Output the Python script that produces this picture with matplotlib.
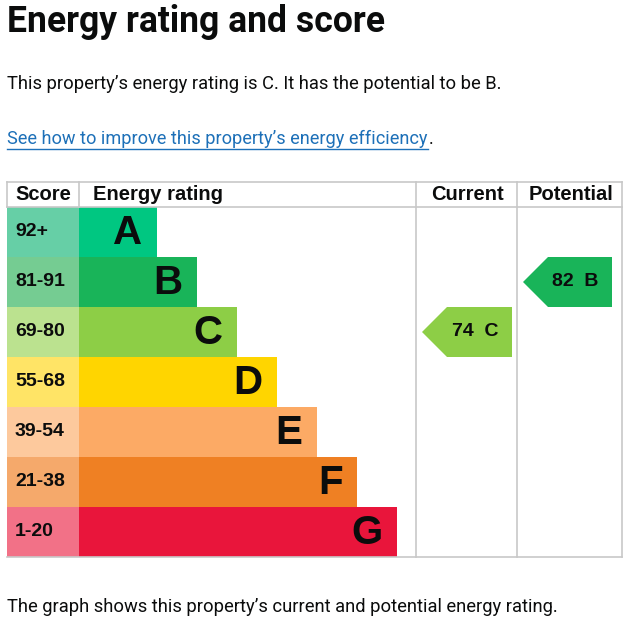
import matplotlib.pyplot as plt
from matplotlib.patches import Rectangle, Polygon

bands = ["A", "B", "C", "D", "E", "F", "G"]
score_ranges = ["92+", "81-91", "69-80", "55-68", "39-54", "21-38", "1-20"]
bar_colors = ["#00c781", "#19b459", "#8dce46", "#ffd500", "#fcaa65", "#ef8023", "#e9153b"]
score_colors = ["#66cfa6", "#75cc92", "#bbe28f", "#ffe466", "#fdc99d", "#f5a96b", "#f27187"]
columns = ["Score", "Energy rating", "Current", "Potential"]

current_score, current_band = 74, "C"
potential_score, potential_band = 82, "B"

title = "Energy rating and score"
summary = "This property\u2019s energy rating is C. It has the potential to be B."
link = "See how to improve this property\u2019s energy efficiency"
footer = "The graph shows this property\u2019s current and potential energy rating."

# layout (pixels)
W, H = 643, 635
left, right = 7, 622
head_top, head_bot = 182, 207
band_h = 50
score_w = 72
bar_min, bar_step = 78, 40
cur_x0, cur_x1 = 416, 517
grid = "#c8c8c8"
chart_font = "Liberation Sans"
gds_font = "Roboto"

fig = plt.figure(figsize=(W / 100, H / 100), dpi=100)
ax = fig.add_axes([0, 0, 1, 1])
ax.set_xlim(0, W)
ax.set_ylim(H, 0)
ax.axis("off")

# header texts
ax.text(left, 22, title, fontsize=25.6, fontweight="bold", family=gds_font,
        color="#0b0c0c", va="center", ha="left")
ax.text(left, 84, summary, fontsize=13.2, family=gds_font, color="#0b0c0c",
        va="center", ha="left")
lt = ax.text(left, 139, link, fontsize=13.1, family=gds_font, color="#1d70b8",
             va="center", ha="left")

bottom = head_bot + band_h * len(bands)

# grid lines
ax.plot([left, right], [head_top, head_top], color=grid, lw=1.2)
ax.plot([left, right], [head_bot, head_bot], color=grid, lw=1.2)
ax.plot([left, right], [bottom, bottom], color=grid, lw=1.2)
ax.plot([left, left], [head_top, head_bot], color=grid, lw=1.2)
ax.plot([left + score_w, left + score_w], [head_top, head_bot], color=grid, lw=1.2)
for x in [cur_x0, cur_x1, right]:
    ax.plot([x, x], [head_top, bottom], color=grid, lw=1.2)

hfs = 14.5
ax.text(left + 8, 195, columns[0], fontsize=hfs, fontweight="bold", family=chart_font,
        va="center", ha="left", color="#0b0c0c")
ax.text(left + score_w + 14, 195, columns[1], fontsize=hfs, fontweight="bold",
        family=chart_font, va="center", ha="left", color="#0b0c0c")
ax.text((cur_x0 + cur_x1) / 2 + 1, 195, columns[2], fontsize=hfs, fontweight="bold",
        family=chart_font, va="center", ha="center", color="#0b0c0c")
ax.text((cur_x1 + right) / 2 + 2, 195, columns[3], fontsize=hfs, fontweight="bold",
        family=chart_font, va="center", ha="center", color="#0b0c0c")

for i, (b, s) in enumerate(zip(bands, score_ranges)):
    y0 = head_bot + band_h * i
    ax.add_patch(Rectangle((left, y0), score_w, band_h, facecolor=score_colors[i], lw=0))
    w = bar_min + bar_step * i
    x0 = left + score_w
    ax.add_patch(Rectangle((x0, y0), w, band_h, facecolor=bar_colors[i], lw=0))
    ax.text(left + 8, y0 + band_h / 2, s, fontsize=14, fontweight="bold",
            family=chart_font, va="center", ha="left", color="#0b0c0c")
    ax.text(x0 + w - 14.5, y0 + band_h / 2 + 1, b, fontsize=29, fontweight="bold",
            family=chart_font, va="center", ha="right", color="#0b0c0c")


def arrow(score, band, xa, xb):
    i = bands.index(band)
    y0 = head_bot + band_h * i
    ym = y0 + band_h / 2
    head = 25
    pts = [(xa, ym), (xa + head, y0), (xb, y0), (xb, y0 + band_h), (xa + head, y0 + band_h)]
    ax.add_patch(Polygon(pts, closed=True, facecolor=bar_colors[i], lw=0))
    ax.text((xa + head + xb) / 2 - 4.5, ym, f"{score}  {band}", fontsize=14, fontweight="bold",
            family=chart_font, va="center", ha="center", color="#0b0c0c")


arrow(current_score, current_band, cur_x0 + 6, cur_x1 - 5)
arrow(potential_score, potential_band, cur_x1 + 6, right - 10)

ax.text(left, 607, footer, fontsize=13.2, family=gds_font, color="#0b0c0c",
        va="center", ha="left")

# underline + full stop after the link
fig.canvas.draw()
bb = lt.get_window_extent().transformed(ax.transData.inverted())
x_end = bb.x1
ax.plot([left, x_end], [149, 149], color="#1d70b8", lw=1)
ax.text(x_end + 1, 139, ".", fontsize=13.1, family=gds_font, color="#0b0c0c",
        va="center", ha="left")

fig.savefig("out.png", dpi=100)
